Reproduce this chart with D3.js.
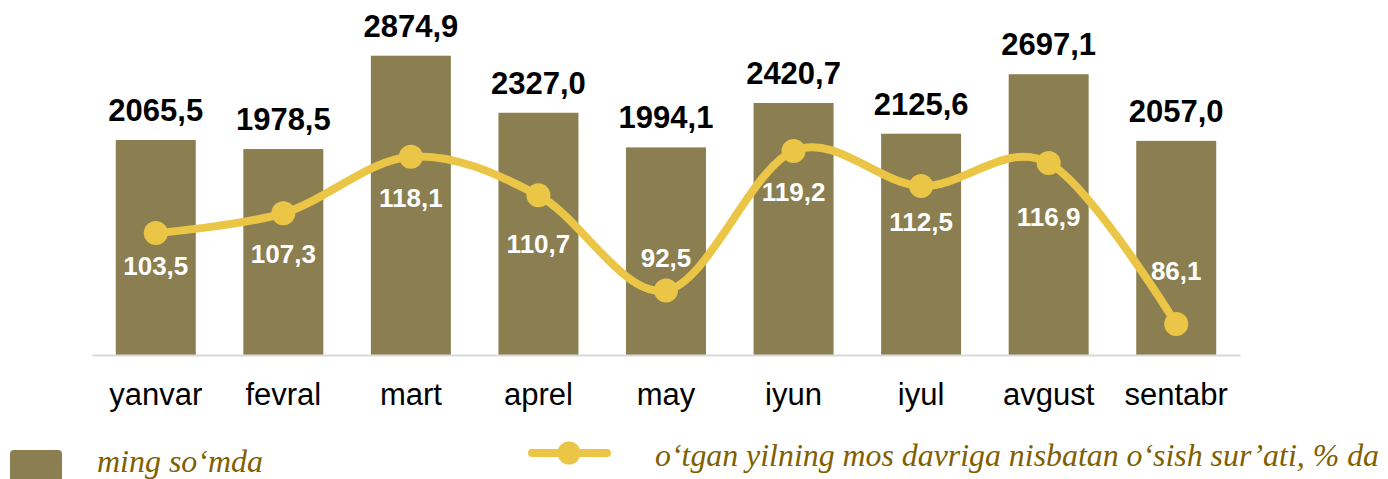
<!DOCTYPE html>
<html>
<head>
<meta charset="utf-8">
<script src="https://cdn.jsdelivr.net/npm/d3@7"></script>
<style>
  html, body { margin: 0; padding: 0; background: #ffffff; }
  svg { display: block; }
</style>
</head>
<body>
<svg id="chart" width="1388" height="479"></svg>
<script>
// ---- data ----
const months = ["yanvar", "fevral", "mart", "aprel", "may", "iyun", "iyul", "avgust", "sentabr"];
const amounts = [2065.5, 1978.5, 2874.9, 2327.0, 1994.1, 2420.7, 2125.6, 2697.1, 2057.0];
const growth = [103.5, 107.3, 118.1, 110.7, 92.5, 119.2, 112.5, 116.9, 86.1];
const barLegend = "ming so‘mda";
const lineLegend = "o‘tgan yilning mos davriga nisbatan o‘sish sur’ati, % da";

// ---- layout / style (not data) ----
const growthLabelDy = [32, 40, 41, 48, -33, 41, 36, 54, -54];
const barColor = "#8B7F52";
const lineColor = "#EBC646";
const fmt = v => v.toFixed(1).replace(".", ",");

const svg = d3.select("#chart");

const x = d3.scaleBand().domain(months).range([92, 1240]).paddingInner(0.373).paddingOuter(0.1865);
const yBar = d3.scaleLinear().domain([0, 3000]).range([355, 42.7]);
const yLine = d3.scaleLinear().domain([80, 125]).range([355.9, 120.6]);

// bars
svg.append("g").selectAll("rect").data(months).join("rect")
  .attr("x", d => x(d))
  .attr("width", x.bandwidth())
  .attr("y", (d, i) => yBar(amounts[i]))
  .attr("height", (d, i) => yBar(0) - yBar(amounts[i]))
  .attr("fill", barColor);

// axis
const xAxis = svg.append("g").attr("transform", "translate(0,355)")
  .call(d3.axisBottom(x).tickSize(0).tickPadding(50));
xAxis.select(".domain").attr("stroke", "#D9D9D9").attr("stroke-width", 2);
xAxis.selectAll("text")
  .attr("font-family", "Liberation Sans, Arial, sans-serif")
  .attr("font-size", 31)
  .attr("fill", "#000")
  .attr("dy", 0)
  .attr("y", 50);

// bar value labels
svg.append("g").selectAll("text").data(months).join("text")
  .attr("x", d => x(d) + x.bandwidth() / 2)
  .attr("y", (d, i) => yBar(amounts[i]) - 19)
  .attr("text-anchor", "middle")
  .attr("font-family", "Liberation Sans, Arial, sans-serif")
  .attr("font-weight", "bold")
  .attr("font-size", 31)
  .attr("fill", "#000")
  .text((d, i) => fmt(amounts[i]));

// line
const pts = months.map((m, i) => [x(m) + x.bandwidth() / 2, yLine(growth[i])]);
svg.append("path")
  .attr("d", d3.line().curve(d3.curveCardinal.tension(0))(pts))
  .attr("fill", "none")
  .attr("stroke", lineColor)
  .attr("stroke-width", 8)
  .attr("stroke-linecap", "round");

svg.append("g").selectAll("circle").data(pts).join("circle")
  .attr("cx", d => d[0]).attr("cy", d => d[1]).attr("r", 12)
  .attr("fill", lineColor);

// growth labels
svg.append("g").selectAll("text").data(months).join("text")
  .attr("x", (d, i) => pts[i][0])
  .attr("y", (d, i) => pts[i][1] + growthLabelDy[i] + 9.5)
  .attr("text-anchor", "middle")
  .attr("font-family", "Liberation Sans, Arial, sans-serif")
  .attr("font-weight", "bold")
  .attr("font-size", 26)
  .attr("fill", "#fff")
  .text((d, i) => fmt(growth[i]));

// legend
const lg = svg.append("g");
lg.append("rect").attr("x", 10).attr("y", 450).attr("width", 52).attr("height", 40)
  .attr("rx", 4).attr("fill", barColor);
lg.append("text").attr("x", 97).attr("y", 472)
  .attr("font-family", "Liberation Serif, serif").attr("font-style", "italic")
  .attr("font-size", 32).attr("fill", "#7F6000")
  .attr("textLength", 166).attr("lengthAdjust", "spacingAndGlyphs")
  .text(barLegend);

lg.append("line").attr("x1", 532).attr("x2", 607).attr("y1", 453).attr("y2", 453)
  .attr("stroke", lineColor).attr("stroke-width", 8).attr("stroke-linecap", "round");
lg.append("circle").attr("cx", 569).attr("cy", 453).attr("r", 11.5).attr("fill", lineColor);
lg.append("text").attr("x", 655).attr("y", 466)
  .attr("font-family", "Liberation Serif, serif").attr("font-style", "italic")
  .attr("font-size", 32).attr("fill", "#7F6000")
  .attr("textLength", 724).attr("lengthAdjust", "spacingAndGlyphs")
  .text(lineLegend);
</script>
</body>
</html>
